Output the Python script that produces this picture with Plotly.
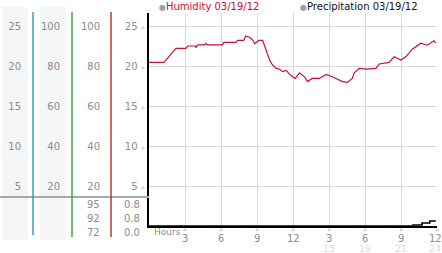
import plotly.graph_objects as go

W, H = 442, 253

# ---------------- data ----------------
hum_hours = [0.0, 1.25, 2.24, 3.07, 3.24, 3.88, 3.9, 4.07, 4.65, 4.73, 4.9, 6.12, 6.23, 7.23, 7.39,
             7.89, 8.06, 8.39, 8.64, 8.8, 8.97, 9.16, 9.47, 9.78, 10.05, 10.3, 10.6, 10.88, 11.13,
             11.44, 11.71, 11.96, 12.18, 12.54, 12.96, 13.2, 13.6, 14.2, 14.76, 15.28, 16.11,
             16.53, 16.94, 17.1, 17.52, 18.08, 18.91, 19.19, 20.0, 20.43, 20.99, 21.4, 21.95,
             22.65, 23.2, 23.75, 23.9]
humidity = [81.8, 81.8, 88.8, 88.8, 90.0, 90.0, 89.2, 90.6, 90.6, 91.2, 90.6, 90.6, 91.8, 91.8, 92.8,
            92.8, 95.0, 94.4, 93.0, 91.2, 92.0, 92.8, 92.8, 88.0, 83.0, 80.4, 78.8, 78.4, 77.2,
            77.8, 75.8, 74.6, 73.8, 76.6, 74.6, 72.2, 73.8, 73.8, 75.8, 74.6, 72.2,
            71.8, 73.8, 76.6, 78.8, 78.4, 78.8, 81.0, 81.8, 84.6, 83.0, 84.6, 88.4,
            91.4, 90.4, 92.6, 91.4]

precip_hours = [0.0, 22.0, 22.75, 23.4, 23.9]
precipitation = [0.0, 0.01, 0.03, 0.05, 0.05]

hour_ticks = [3, 6, 9, 12, 15, 18, 21, 24]
hour_labels = ["3", "6", "9", "12", "3", "6", "9", "12"]
hour24_labels = ["", "", "", "", "15", "18", "21", "24"]

scale100_ticks = [20, 40, 60, 80, 100]
scale25_labels = ["5", "10", "15", "20", "25"]
scale100_labels = ["20", "40", "60", "80", "100"]

stats_humidity = ["95", "92", "72"]
stats_precip = ["0.8", "0.8", "0.0"]

legend_names = ["Humidity 03/19/12", "Precipitation 03/19/12"]

# ---------------- geometry helpers ----------------
def px(x):
    return x / W

def py(y):
    return 1 - y / H

FONT = "DejaVu Sans"
TICKC = "#8c8c8c"
RED = "#c8102e"
MARK = "<span style='font-size:7px;color:#b4b4b4'>»</span>"

x_dom = [px(149), px(437)]
y_dom = [py(226), py(13)]
top100 = 100 * 213 / 200

fig = go.Figure()
fig.add_trace(go.Scatter(x=hum_hours, y=humidity, mode="lines", xaxis="x", yaxis="y",
                         line=dict(color=RED, width=1.2), showlegend=False,
                         name=legend_names[0]))
fig.add_trace(go.Scatter(x=precip_hours, y=precipitation, mode="lines", xaxis="x", yaxis="y2",
                         line=dict(color="black", width=1.6, shape="hv"), showlegend=False,
                         name=legend_names[1]))
# empty traces so the extra scale columns are drawn
for ax in ["y3", "y4", "y5"]:
    fig.add_trace(go.Scatter(x=[None], y=[None], xaxis="x", yaxis=ax, mode="lines",
                             showlegend=False, hoverinfo="skip"))

tf = dict(family=FONT, size=10, color=TICKC)

def col_axis(pos, labels, standoff):
    return dict(overlaying="y", range=[0, top100], tickvals=scale100_ticks,
                ticktext=labels, anchor="free", position=px(pos), side="left",
                showgrid=False, zeroline=False, showline=False, ticks="",
                tickfont=tf, ticklabelstandoff=standoff)

layout = dict(
    width=W, height=H, margin=dict(l=0, r=0, t=0, b=0),
    paper_bgcolor="white", plot_bgcolor="white", showlegend=False,
    font=dict(family=FONT),
    xaxis=dict(domain=x_dom, range=[0, 24], tickvals=hour_ticks, showticklabels=False,
               showgrid=True, gridcolor="#dadada", gridwidth=1, zeroline=False,
               showline=True, linecolor="black", linewidth=2, ticks="", anchor="y"),
    yaxis=dict(domain=y_dom, range=[0, top100], tickvals=scale100_ticks,
               ticktext=[s + " " + MARK for s in scale25_labels],
               showgrid=True, gridcolor="#dadada", gridwidth=1, zeroline=False,
               showline=True, linecolor="black", linewidth=2, ticks="",
               tickfont=tf, anchor="x"),
    yaxis2=dict(overlaying="y", range=[0, 2.13], visible=False, side="right", anchor="x"),
    yaxis3=col_axis(111, scale100_labels, 11),
    yaxis4=col_axis(72, scale100_labels, 12),
    yaxis5=col_axis(33, scale25_labels, 12),
)

shapes = []
for x0, x1 in [(2, 28), (40, 66)]:
    shapes.append(dict(type="rect", xref="paper", yref="paper", x0=px(x0), x1=px(x1),
                       y0=py(240), y1=py(7), fillcolor="#f5f5f5", line=dict(width=0),
                       layer="below"))
shapes.append(dict(type="line", xref="paper", yref="paper", x0=0, x1=px(149),
                   y0=py(197), y1=py(197), line=dict(color="#a8a8a8", width=2)))
for xx, col, yb in [(33, "#3a9ac4", 235), (72, "#3aa83a", 237), (111, "#b83a3a", 237)]:
    shapes.append(dict(type="line", xref="paper", yref="paper", x0=px(xx), x1=px(xx),
                       y0=py(yb), y1=py(12), line=dict(color=col, width=1.5)))
layout["shapes"] = shapes

ann = []
for i, (a, b) in enumerate(zip(stats_humidity, stats_precip)):
    yy = 204 + 14 * i
    ann.append(dict(xref="paper", yref="paper", x=px(102), y=py(yy), text=a,
                    showarrow=False, xanchor="right", yanchor="middle", font=tf))
    ann.append(dict(xref="paper", yref="paper", x=px(142), y=py(yy), text=b,
                    showarrow=False, xanchor="right", yanchor="middle", font=tf))
ann.append(dict(xref="paper", yref="paper", x=px(152), y=py(232), text="Hours",
                showarrow=False, xanchor="left", yanchor="middle",
                font=dict(family=FONT, size=9, color=TICKC)))
# hour labels: mark, 12-hour number, faint 24-hour number
last = hour_ticks[-1]
for t, lab, lab24 in zip(hour_ticks, hour_labels, hour24_labels):
    shift = -2 if t == last else 0
    ann.append(dict(xref="x", yref="paper", x=t, y=py(229.5), text="»", showarrow=False,
                    xanchor="center", yanchor="middle",
                    font=dict(family=FONT, size=7, color="#b4b4b4")))
    ann.append(dict(xref="x", yref="paper", x=t, y=py(238.5), text=lab, showarrow=False,
                    xanchor="center", yanchor="middle", xshift=shift, font=tf))
    if lab24:
        ann.append(dict(xref="x", yref="paper", x=t, y=py(248), text=lab24, showarrow=False,
                        xanchor="center", yanchor="middle", xshift=shift,
                        font=dict(family=FONT, size=9.5, color="#dcdcdc")))
for xx, name, col in [(157, legend_names[0], RED), (298, legend_names[1], "#111111")]:
    ann.append(dict(xref="paper", yref="paper", x=px(xx), y=py(7),
                    text="<span style='color:#a0a0a0;font-size:8px'>●</span>" + name,
                    showarrow=False, xanchor="left", yanchor="middle",
                    font=dict(family=FONT, size=10, color=col)))
layout["annotations"] = ann

fig.update_layout(**layout)
fig.write_html("out.html")
